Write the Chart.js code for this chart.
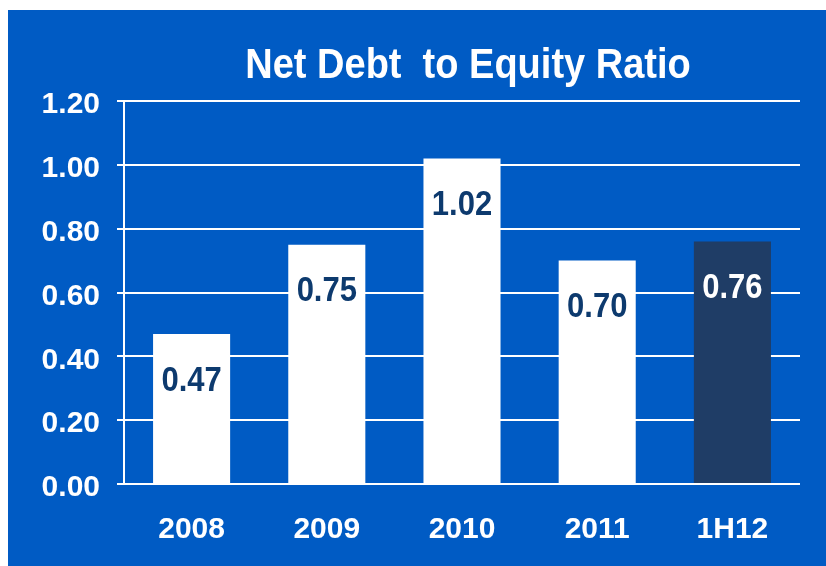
<!DOCTYPE html>
<html>
<head>
<meta charset="utf-8">
<script src="https://cdn.jsdelivr.net/npm/chart.js@4/dist/chart.umd.min.js"></script>
<style>
  html, body { margin: 0; padding: 0; background: #ffffff; }
  #wrap { position: absolute; left: 8px; top: 10px; width: 818px; height: 556px; background: #005bc4; }
</style>
</head>
<body>
<div id="wrap"><canvas id="grafico" width="818" height="556"></canvas></div>
<script>
const titleText = "Net Debt  to Equity Ratio";
const labels = ["2008", "2009", "2010", "2011", "1H12"];
const ratios = [0.47, 0.75, 1.02, 0.70, 0.76];
const barColors = ["#ffffff", "#ffffff", "#ffffff", "#ffffff", "#1f3d66"];
const labelColors = ["#0d3a6e", "#0d3a6e", "#0d3a6e", "#0d3a6e", "#ffffff"];

const font = "'Liberation Sans', Arial, sans-serif";

// text in the picture is a bit taller than it is wide
function tallText(ctx, text, x, y, sy) {
    ctx.save();
    ctx.translate(x, y);
    ctx.scale(1, sy);
    ctx.fillText(text, 0, 0);
    ctx.restore();
}

// draws the title and the value inside each bar
const extras = {
    id: "extras",
    afterDatasetsDraw(chart) {
        const ctx = chart.ctx;
        const area = chart.chartArea;
        ctx.save();
        ctx.fillStyle = "#ffffff";
        ctx.font = "bold 38px " + font;
        ctx.textAlign = "center";
        ctx.textBaseline = "middle";
        tallText(ctx, titleText, (area.left + area.right) / 2 + 6, 56, 1.1);

        ctx.font = "bold 31px " + font;
        chart.getDatasetMeta(0).data.forEach((bar, i) => {
            ctx.fillStyle = labelColors[i];
            tallText(ctx, ratios[i].toFixed(2), bar.x, bar.y + 47, 1.13);
        });
        ctx.restore();
    }
};

const ctx = document.getElementById("grafico").getContext("2d");
const chart = new Chart(ctx, {
    type: "bar",
    data: {
        labels: labels,
        datasets: [
            {
                data: ratios,
                backgroundColor: barColors,
                borderWidth: 0,
                barPercentage: 0.57,
                categoryPercentage: 1
            }
        ]
    },
    options: {
        responsive: false,
        animation: false,
        layout: { padding: { top: 91, right: 26, left: 0, bottom: 0 } },
        plugins: {
            legend: { display: false },
            tooltip: { enabled: false }
        },
        scales: {
            x: {
                grid: { display: false, drawTicks: false },
                border: { display: false },
                ticks: {
                    color: "#ffffff",
                    font: { family: font, size: 30, weight: "bold" },
                    padding: 28
                },
                afterFit: (s) => { s.height = 82; }
            },
            y: {
                min: 0,
                max: 1.2,
                ticks: {
                    stepSize: 0.2,
                    color: "#ffffff",
                    font: { family: font, size: 30, weight: "bold" },
                    padding: 17,
                    labelOffset: 4,
                    callback: (v) => Number(v).toFixed(2)
                },
                grid: { color: "#ffffff", lineWidth: 2, tickLength: 7 },
                border: { color: "#ffffff", width: 2 },
                afterFit: (s) => { s.width = 116; }
            }
        }
    },
    plugins: [extras]
});
</script>
</body>
</html>
